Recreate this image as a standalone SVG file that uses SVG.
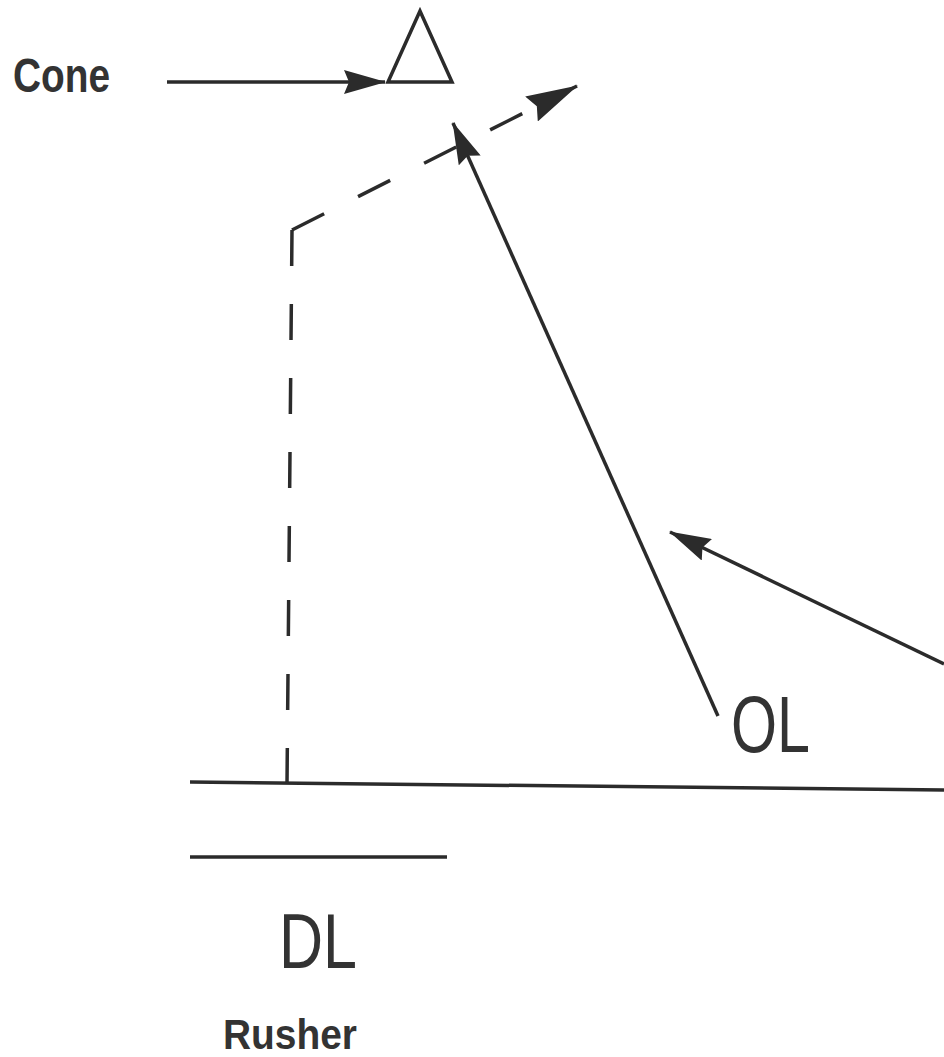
<svg xmlns="http://www.w3.org/2000/svg" width="944" height="1057" viewBox="0 0 944 1057">
<style>
.ln{stroke:#2b2b2b;stroke-width:3.5;fill:none}
.dash{stroke-dasharray:36 38}
.lbl{font-family:"Liberation Sans",Arial,sans-serif;fill:#333}
.b{font-weight:bold}
</style>
<defs>
<marker id="ah" markerUnits="userSpaceOnUse" viewBox="0 0 42 24" markerWidth="42" markerHeight="24" refX="41" refY="12" orient="auto">
<path d="M0,0 L42,12 L0,24 L5,12 z" fill="#2b2b2b"/>
</marker>
<marker id="ah2" markerUnits="userSpaceOnUse" viewBox="0 0 52 28" markerWidth="52" markerHeight="28" refX="51" refY="14" orient="auto">
<path d="M0,0 L52,14 L0,28 L6,14 z" fill="#2b2b2b"/>
</marker>
</defs>
<rect width="944" height="1057" fill="#fff"/>
<g id="cone">
<polygon class="ln" points="420,11 388,82 452,82"/>
<text class="lbl b" x="13" y="92" font-size="48" textLength="97" lengthAdjust="spacingAndGlyphs">Cone</text>
</g>
<g id="lines">
<line class="ln" x1="190" y1="782" x2="944" y2="790"/>
<line class="ln" x1="190" y1="857" x2="447" y2="857"/>
</g>
<g id="ol">
<text class="lbl" x="731" y="752" font-size="80" textLength="79" lengthAdjust="spacingAndGlyphs">OL</text>
</g>
<g id="dl">
<text class="lbl" x="279" y="968" font-size="78" textLength="78" lengthAdjust="spacingAndGlyphs">DL</text>
<text class="lbl b" x="223" y="1049" font-size="42" textLength="134" lengthAdjust="spacingAndGlyphs">Rusher</text>
</g>
<g id="connectors">
<line class="ln" x1="167" y1="82" x2="385" y2="82" marker-end="url(#ah)"/>
<path class="ln dash" d="M292,230 L287,784"/>
<path class="ln dash" d="M292,230 L577,86" marker-end="url(#ah2)"/>
<line class="ln" x1="718" y1="716" x2="453" y2="123" marker-end="url(#ah)"/>
<line class="ln" x1="944" y1="664" x2="670" y2="532" marker-end="url(#ah)"/>
</g>
</svg>
